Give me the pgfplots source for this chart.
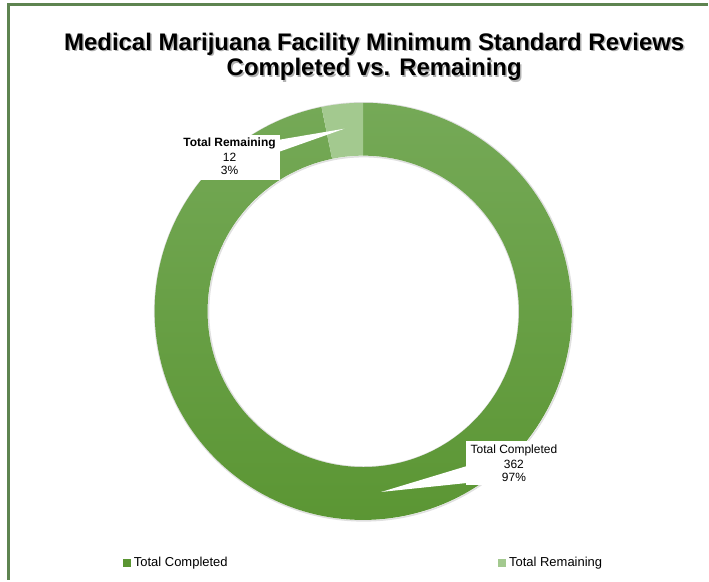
\documentclass[border=0pt]{standalone}
\usepackage{pgfplots}
\pgfplotsset{compat=1.18}
\usepackage{pgfplotstable}
\usepackage{fontspec}
\setmainfont{Liberation Sans}
\definecolor{framec}{HTML}{5E8450}
\definecolor{gtop}{HTML}{75A957}
\definecolor{gbot}{HTML}{5A9532}
\definecolor{rem}{HTML}{A3C98F}
\pgfplotstableread{
label value
Completed 362
Remaining 12
}\donutdata
\begin{document}
\begin{tikzpicture}
\pgfplotstablegetelem{0}{value}\of\donutdata \let\vc\pgfplotsretval
\pgfplotstablegetelem{1}{value}\of\donutdata \let\vr\pgfplotsretval
\pgfmathsetmacro{\tot}{\vc+\vr}
\pgfmathsetmacro{\ar}{90+\vr/\tot*360}
\pgfmathtruncatemacro{\pc}{round(\vc/\tot*100)}
\pgfmathtruncatemacro{\pr}{round(\vr/\tot*100)}
\begin{axis}[x=1bp,y=1bp,xmin=0,xmax=709,ymin=0,ymax=581,hide axis,clip=false]
\path (axis cs:0,0) rectangle (axis cs:709,581);
% frame
\draw[framec,line width=3bp] (axis cs:8.7,0) -- (axis cs:8.7,576.3) -- (axis cs:709,576.3);
% title
\node[text=black!30,font=\fontsize{24bp}{28bp}\selectfont\bfseries] at (axis cs:376.5,535.5) {Medical Marijuana Facility Minimum Standard Reviews};
\node[text=black!30,font=\fontsize{24bp}{28bp}\selectfont\bfseries] at (axis cs:376.5,509.5) {Completed vs. Remaining};
\node[text=black,font=\fontsize{24bp}{28bp}\selectfont\bfseries] at (axis cs:375,537) {Medical Marijuana Facility Minimum Standard Reviews};
\node[text=black,font=\fontsize{24bp}{28bp}\selectfont\bfseries] at (axis cs:375,511) {Completed vs. Remaining};
% soft shadow
\draw[black!12,line width=1.5bp] (axis cs:364.5,268.5) circle[radius=209.5bp];
\draw[black!12,line width=1.5bp] (axis cs:364.5,268.5) circle[radius=155.5bp];
% donut
\shade[top color=gtop,bottom color=gbot] (axis cs:364,269) ++(\ar:209bp) arc[start angle=\ar,end angle=450,radius=209bp] -- ++(90:-53bp) arc[start angle=450,end angle=\ar,radius=156bp] -- cycle;
\fill[rem] (axis cs:364,269) ++(90:209bp) arc[start angle=90,end angle=\ar,radius=209bp] -- ++(\ar:-53bp) arc[start angle=\ar,end angle=90,radius=156bp] -- cycle;
% callouts
\fill[white] (axis cs:181,401) rectangle (axis cs:281,446);
\fill[white] (axis cs:280,441) -- (axis cs:345,452) -- (axis cs:280,429) -- cycle;
\fill[white] (axis cs:467,95) rectangle (axis cs:563,139);
\fill[white] (axis cs:468,114) -- (axis cs:382,88) -- (axis cs:468,97) -- cycle;
\node[inner sep=0pt,font=\fontsize{12bp}{14bp}\selectfont\bfseries] at (axis cs:230,437) {Total Remaining};
\node[inner sep=0pt,font=\fontsize{12bp}{14bp}\selectfont] at (axis cs:230,423) {\vr};
\node[inner sep=0pt,font=\fontsize{12bp}{14bp}\selectfont] at (axis cs:230,410) {\pr\%};
\node[inner sep=0pt,font=\fontsize{12bp}{14bp}\selectfont] at (axis cs:515,130) {Total Completed};
\node[inner sep=0pt,font=\fontsize{12bp}{14bp}\selectfont] at (axis cs:515,116) {\vc};
\node[inner sep=0pt,font=\fontsize{12bp}{14bp}\selectfont] at (axis cs:515,103) {\pc\%};
% legend
\fill[gbot] (axis cs:123.5,13) rectangle (axis cs:131.5,21);
\node[anchor=west,inner sep=0pt,font=\fontsize{13bp}{15bp}\selectfont] at (axis cs:134,17) {Total Completed};
\fill[rem] (axis cs:499.5,13) rectangle (axis cs:507.5,21);
\node[anchor=west,inner sep=0pt,font=\fontsize{13bp}{15bp}\selectfont] at (axis cs:510,17) {Total Remaining};
\end{axis}
\end{tikzpicture}
\end{document}
